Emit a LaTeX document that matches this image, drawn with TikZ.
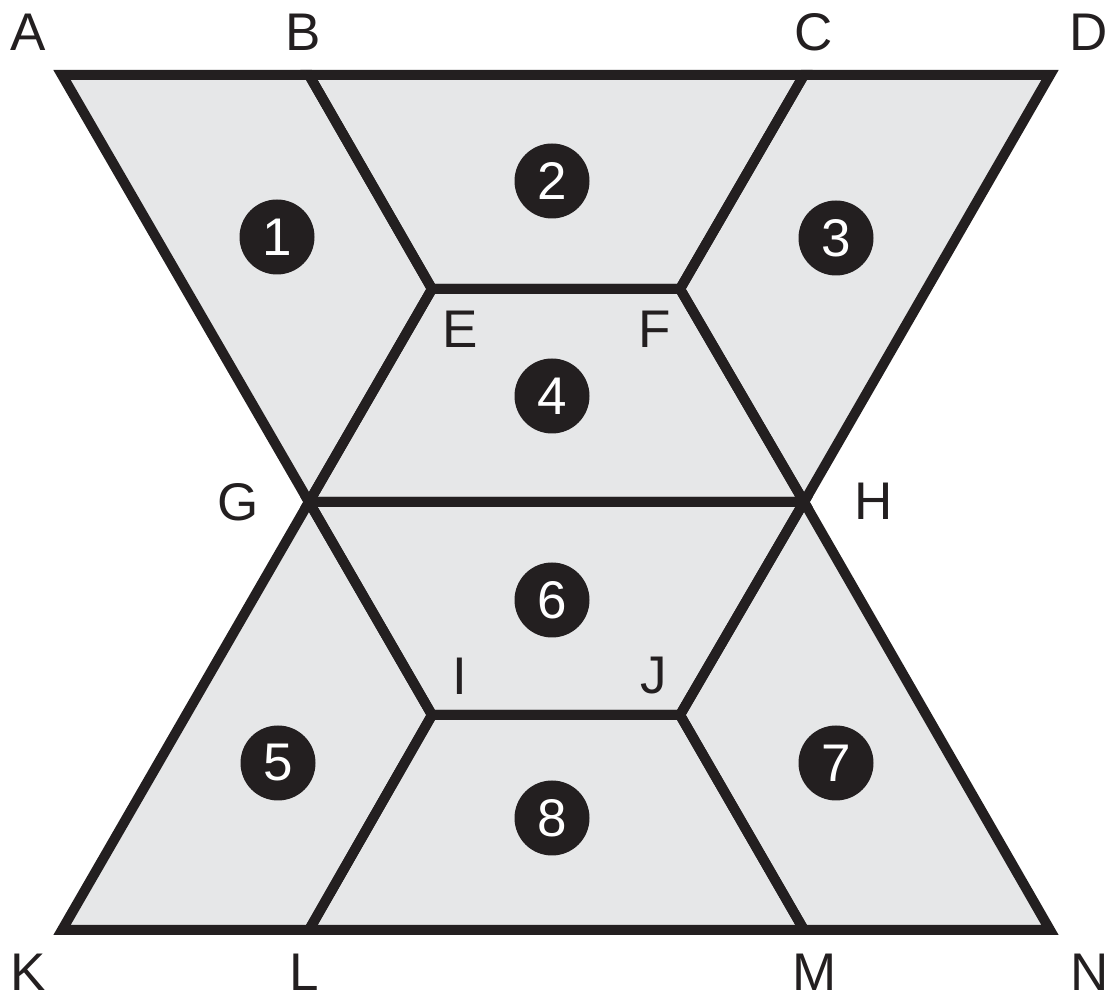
\documentclass[tikz,border=0pt]{standalone}
\usepackage{fontspec}
\setmainfont{Liberation Sans}
\definecolor{regionfill}{HTML}{E6E7E8}
\definecolor{edgeblack}{HTML}{231F20}
\tikzset{
  region/.style={draw=edgeblack,line width=10bp,line join=miter},
  vlabel/.style={text=edgeblack,inner sep=0pt,font=\fontsize{53bp}{60bp}\selectfont},
  badge/.style={circle,fill=edgeblack,text=white,minimum size=75bp,inner sep=0pt,font=\fontsize{53bp}{60bp}\selectfont},
}
\begin{document}
\begin{tikzpicture}
\useasboundingbox (0bp,0bp) rectangle (1112bp,999bp);
%% corners
\coordinate (A) at (62bp,924bp);
\coordinate (B) at (309bp,924bp);
\coordinate (C) at (804bp,924bp);
\coordinate (D) at (1050bp,924bp);
\coordinate (E) at (432bp,710bp);
\coordinate (F) at (680bp,710bp);
\coordinate (G) at (309bp,497bp);
\coordinate (H) at (804bp,497bp);
\coordinate (I) at (432bp,284bp);
\coordinate (J) at (680bp,284bp);
\coordinate (K) at (62bp,69bp);
\coordinate (L) at (309bp,69bp);
\coordinate (M) at (804bp,69bp);
\coordinate (N) at (1050bp,69bp);
%% regions
\foreach \p/\q/\r/\s in {A/B/E/G,B/C/F/E,C/D/H/F,E/F/H/G,G/H/J/I,G/I/L/K,I/J/M/L,J/H/N/M}
  \fill [regionfill] (\p) -- (\q) -- (\r) -- (\s) -- cycle;
\foreach \p/\q/\r/\s in {A/B/E/G,B/C/F/E,C/D/H/F,E/F/H/G,G/H/J/I,G/I/L/K,I/J/M/L,J/H/N/M}
  \draw [region] (\p) -- (\q) -- (\r) -- (\s) -- cycle;
%% corner letters
\node (lbl_A) at (28bp,967bp) [vlabel] {A};
  \node (lbl_B) at (303bp,967bp) [vlabel] {B};
  \node (lbl_C) at (814bp,967bp) [vlabel] {C};
  \node (lbl_D) at (1089bp,967bp) [vlabel] {D};
  \node (lbl_E) at (460bp,670bp) [vlabel] {E};
  \node (lbl_F) at (655bp,670bp) [vlabel] {F};
  \node (lbl_G) at (238bp,497bp) [vlabel] {G};
  \node (lbl_H) at (874bp,498bp) [vlabel] {H};
  \node (lbl_I) at (460bp,323bp) [vlabel] {I};
  \node (lbl_J) at (654bp,323bp) [vlabel] {J};
  \node (lbl_K) at (28bp,27bp) [vlabel] {K};
  \node (lbl_L) at (304bp,27bp) [vlabel] {L};
  \node (lbl_M) at (815bp,27bp) [vlabel] {M};
  \node (lbl_N) at (1090bp,27bp) [vlabel] {N};
%% numbered pieces
\node (piece_1) at (277bp,762bp) [badge] {1};
  \node (piece_2) at (552bp,818bp) [badge] {2};
  \node (piece_3) at (836bp,761bp) [badge] {3};
  \node (piece_4) at (552bp,603bp) [badge] {4};
  \node (piece_5) at (278bp,236bp) [badge] {5};
  \node (piece_6) at (552bp,399bp) [badge] {6};
  \node (piece_7) at (836bp,236bp) [badge] {7};
  \node (piece_8) at (552bp,181bp) [badge] {8};
%
\end{tikzpicture}
\end{document}
